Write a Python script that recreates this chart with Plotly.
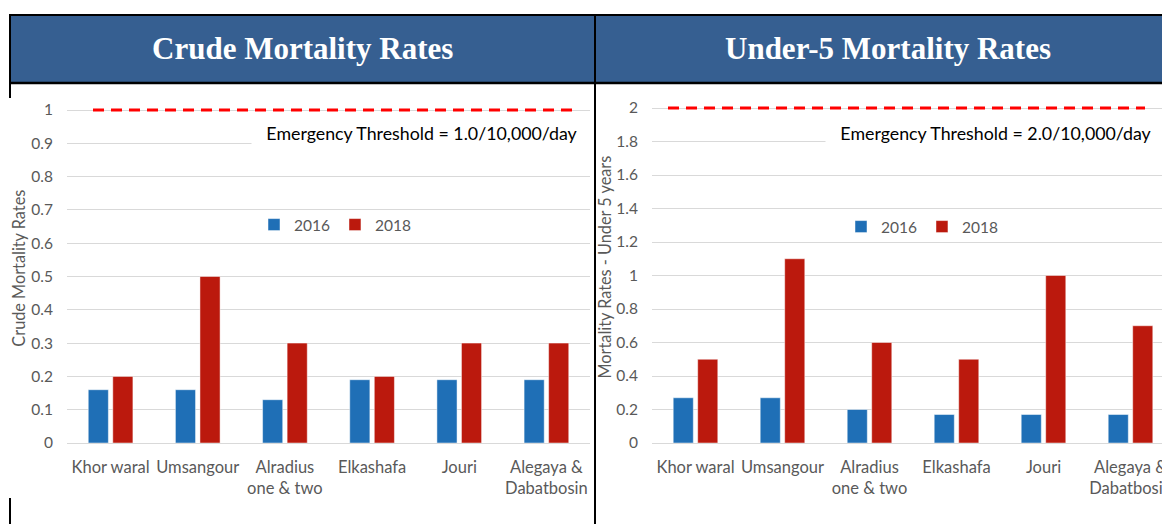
import plotly.graph_objects as go

# ---------------- data ----------------
categories = ["Khor waral", "Umsangour", "Alradius<br>one & two", "Elkashafa", "Jouri", "Alegaya &<br>Dabatbosin"]
years = ["2016", "2018"]
cmr_2016 = [0.16, 0.16, 0.13, 0.19, 0.19, 0.19]
cmr_2018 = [0.2, 0.5, 0.3, 0.2, 0.3, 0.3]
u5_2016 = [0.27, 0.27, 0.2, 0.17, 0.17, 0.17]
u5_2018 = [0.5, 1.1, 0.6, 0.5, 1.0, 0.7]
cmr_threshold = 1.0
u5_threshold = 2.0
panel_titles = ["Crude Mortality Rates", "Under-5 Mortality Rates"]
y_titles = ["Crude Mortality Rates", "Mortality Rates - Under 5 years"]
threshold_labels = ["Emergency Threshold = 1.0/10,000/day", "Emergency Threshold = 2.0/10,000/day"]

# ---------------- style ----------------
# the page body has an 8px margin, so the figure is sized to the visible area
OFF = 8
W, H = 1170 - OFF, 524 - OFF
BLUE = "#1F6FB6"
RED = "#BB190D"
GRID = "#D9D9D9"
TXT = "#595959"
HEAD = "#365F91"
FONT = "Lato"


def px(x):
    return (x - OFF) / W


def py(y):
    return (H - (y - OFF)) / H


fig = go.Figure()

bar_line = dict(width=0.8, color="rgba(255,255,255,0.6)")
fig.add_trace(go.Bar(x=categories, y=cmr_2016, name=years[0], marker=dict(color=BLUE, line=bar_line),
                     xaxis="x", yaxis="y", legend="legend"))
fig.add_trace(go.Bar(x=categories, y=cmr_2018, name=years[1], marker=dict(color=RED, line=bar_line),
                     xaxis="x", yaxis="y", legend="legend"))
fig.add_trace(go.Bar(x=categories, y=u5_2016, name=years[0], marker=dict(color=BLUE, line=bar_line),
                     xaxis="x2", yaxis="y2", legend="legend2"))
fig.add_trace(go.Bar(x=categories, y=u5_2018, name=years[1], marker=dict(color=RED, line=bar_line),
                     xaxis="x2", yaxis="y2", legend="legend2"))

xcommon = dict(type="category", showgrid=False, showline=False, zeroline=False, ticks="", automargin=False,
               tickfont=dict(family=FONT, size=16.5, color=TXT), ticklabelstandoff=12, fixedrange=True)
ycommon = dict(showgrid=True, gridcolor=GRID, gridwidth=1, zeroline=True, zerolinecolor=GRID, zerolinewidth=1.3,
               showline=False, ticks="", tick0=0, tickfont=dict(family=FONT, size=15.5, color=TXT),
               ticklabelstandoff=13, fixedrange=True, automargin=False)

y0_pix = 443
fig.update_layout(
    width=W, height=H,
    margin=dict(l=0, r=0, t=0, b=0, autoexpand=False),
    paper_bgcolor="white", plot_bgcolor="white",
    barmode="group", bargap=0.437, bargroupgap=0.18,
    xaxis=dict(xcommon, domain=[px(67), px(590)], range=[-0.5, 5.5], anchor="y"),
    yaxis=dict(ycommon, domain=[py(y0_pix), py(y0_pix - 333 * 1.05)], range=[0, 1.05], dtick=0.1, anchor="x",
               title=dict(text=y_titles[0], font=dict(family=FONT, size=16.3, color=TXT), standoff=1)),
    xaxis2=dict(xcommon, domain=[px(652), 1.0], range=[-0.5, -0.5 + 518 / 87.0], anchor="y2"),
    yaxis2=dict(ycommon, domain=[py(y0_pix), py(y0_pix - 167.5 * 2.1)], range=[0, 2.1], dtick=0.2, anchor="x2",
                title=dict(text=y_titles[1], font=dict(family=FONT, size=16.3, color=TXT), standoff=0)),
    legend=dict(orientation="h", x=px(335), xanchor="center", y=py(225), yanchor="middle",
                font=dict(family=FONT, size=15.5, color=TXT), bgcolor="rgba(0,0,0,0)", itemwidth=30,
                traceorder="normal"),
    legend2=dict(orientation="h", x=px(922), xanchor="center", y=py(227), yanchor="middle",
                 font=dict(family=FONT, size=15.5, color=TXT), bgcolor="rgba(0,0,0,0)", itemwidth=30,
                 traceorder="normal"),
)

shapes = []
# header band
shapes.append(dict(type="rect", xref="paper", yref="paper", x0=px(10), x1=1.0, y0=py(83), y1=py(15),
                   fillcolor=HEAD, line=dict(width=0), layer="below"))
# table borders
border = dict(color="black", width=2)
shapes.append(dict(type="line", xref="paper", yref="paper", x0=px(9), x1=1.0, y0=py(15), y1=py(15), line=border))
shapes.append(dict(type="line", xref="paper", yref="paper", x0=px(9), x1=1.0, y0=py(83), y1=py(83),
                   line=dict(color="black", width=2.5)))
shapes.append(dict(type="line", xref="paper", yref="paper", x0=px(10), x1=px(10), y0=py(14), y1=py(98), line=border))
shapes.append(dict(type="line", xref="paper", yref="paper", x0=px(10), x1=px(10), y0=py(498), y1=py(524), line=border))
shapes.append(dict(type="line", xref="paper", yref="paper", x0=px(595), x1=px(595), y0=py(14), y1=py(524), line=border))
# threshold lines
shapes.append(dict(type="line", xref="x domain", yref="y", x0=(93 - 67) / 523, x1=(576 - 67) / 523,
                   y0=cmr_threshold, y1=cmr_threshold, layer="above",
                   line=dict(color="#FF0000", width=3, dash="11px,7px")))
shapes.append(dict(type="line", xref="x2 domain", yref="y2", x0=(668 - 652) / 518, x1=(1145 - 652) / 518,
                   y0=u5_threshold, y1=u5_threshold, layer="above",
                   line=dict(color="#FF0000", width=3, dash="11px,7px")))
fig.update_layout(shapes=shapes)

annotations = []
for i, (cx, cy) in enumerate([(302, 48), (888, 48)]):
    annotations.append(dict(text=panel_titles[i], xref="paper", yref="paper", x=px(cx), y=py(cy),
                            xanchor="center", yanchor="middle", showarrow=False,
                            font=dict(family="Liberation Serif", size=31, color="white", weight="bold")))
for i, (cx, cy) in enumerate([(422, 133), (996, 133)]):
    annotations.append(dict(text=threshold_labels[i], xref="paper", yref="paper", x=px(cx), y=py(cy),
                            xanchor="center", yanchor="middle", showarrow=False, width=338, height=28,
                            bgcolor="white", font=dict(family=FONT, size=17.8, color="black")))
fig.update_layout(annotations=annotations)

fig.write_html("out.html")
